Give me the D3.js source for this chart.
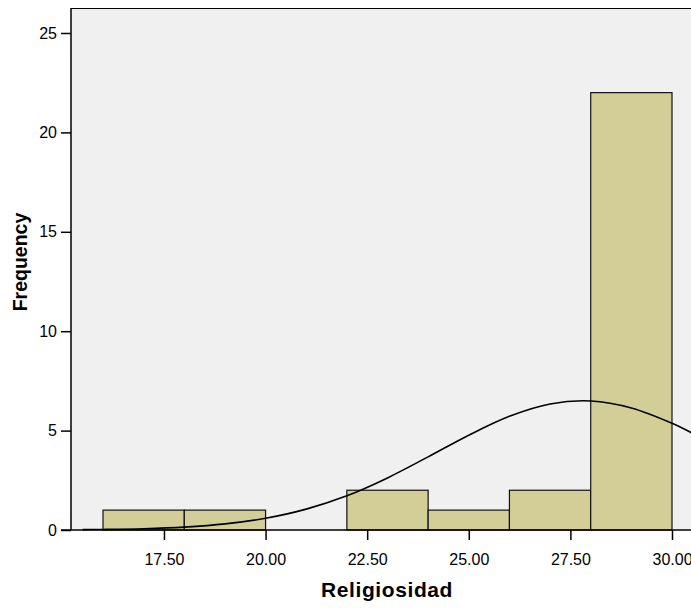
<!DOCTYPE html>
<html><head><meta charset="utf-8">
<script src="https://cdn.jsdelivr.net/npm/d3@7"></script>
<style>body{margin:0;background:#fff}svg{display:block}text{font-family:"Liberation Sans",Arial,sans-serif}</style>
</head><body><svg id="c" width="691" height="608"></svg>
<script>
const binStarts = [16, 18, 20, 22, 24, 26, 28];
const binWidth = 2;
const counts = [1, 1, 0, 2, 1, 2, 22];
const xTicks = [17.5, 20, 22.5, 25, 27.5, 30];
const yTicks = [0, 5, 10, 15, 20, 25];
const curveX = [15.5, 16, 17, 18, 19, 20, 21, 22, 23, 24, 25, 26, 27, 28, 29, 30, 30.5];
const curveY = [0.017, 0.027, 0.065, 0.147, 0.306, 0.59, 1.05, 1.72, 2.62, 3.68, 4.77, 5.72, 6.34, 6.49, 6.14, 5.37, 4.87];
const xTitle = "Religiosidad", yTitle = "Frequency";

(function () {
const svg = d3.select("#c");
const x = d3.scaleLinear().domain([16, 30]).range([103, 672]);
const y = d3.scaleLinear().domain([0, 25]).range([530, 33]);
const pL = 71, pT = 8, pR = 700;

svg.append("rect").attr("x", pL).attr("y", pT).attr("width", pR - pL).attr("height", 530 - pT).attr("fill", "#F0F0F0");

svg.append("g").selectAll("rect").data(counts).join("rect")
  .attr("x", (d, i) => x(binStarts[i]))
  .attr("width", (d, i) => x(binStarts[i] + binWidth) - x(binStarts[i]))
  .attr("y", d => y(d)).attr("height", d => y(0) - y(d))
  .attr("fill", "#D3CE97").attr("stroke", "#111").attr("stroke-width", 1.2)
  .style("display", d => d > 0 ? null : "none");

const line = d3.line().x(d => x(d)).y((d, i) => y(curveY[i])).curve(d3.curveCatmullRom);
svg.append("path").attr("d", line(curveX)).attr("fill", "none").attr("stroke", "#000").attr("stroke-width", 1.6);

svg.append("line").attr("x1", pL).attr("x2", pR).attr("y1", pT + 0.5).attr("y2", pT + 0.5).attr("stroke", "#000").attr("stroke-width", 1.2);

const ya = svg.append("g").attr("transform", `translate(${pL},0)`)
  .call(d3.axisLeft(y).tickValues(yTicks).tickSize(10).tickPadding(4).tickFormat(d3.format("d")));
ya.select(".domain").attr("d", `M0,${pT}V530`).attr("stroke-width", 1.5);
ya.selectAll("text").attr("font-size", 16).attr("fill", "#000");
ya.selectAll(".tick line").attr("stroke-width", 1.5);

const xa = svg.append("g").attr("transform", `translate(0,530)`)
  .call(d3.axisBottom(x).tickValues(xTicks).tickSize(10).tickPadding(14).tickFormat(d3.format(".2f")));
xa.select(".domain").attr("d", `M${pL - 10},0H${pR}`).attr("stroke-width", 1.5);
xa.selectAll("text").attr("font-size", 16).attr("fill", "#000");
xa.selectAll(".tick line").attr("stroke-width", 1.5);

svg.append("text").attr("x", 387).attr("y", 597).attr("text-anchor", "middle")
  .attr("font-size", 21).attr("letter-spacing", 0.6).attr("font-weight", "bold").text(xTitle);
svg.append("text").attr("transform", "translate(27,262) rotate(-90)").attr("text-anchor", "middle")
  .attr("font-size", 19.5).attr("font-weight", "bold").text(yTitle);
})();
</script></body></html>
